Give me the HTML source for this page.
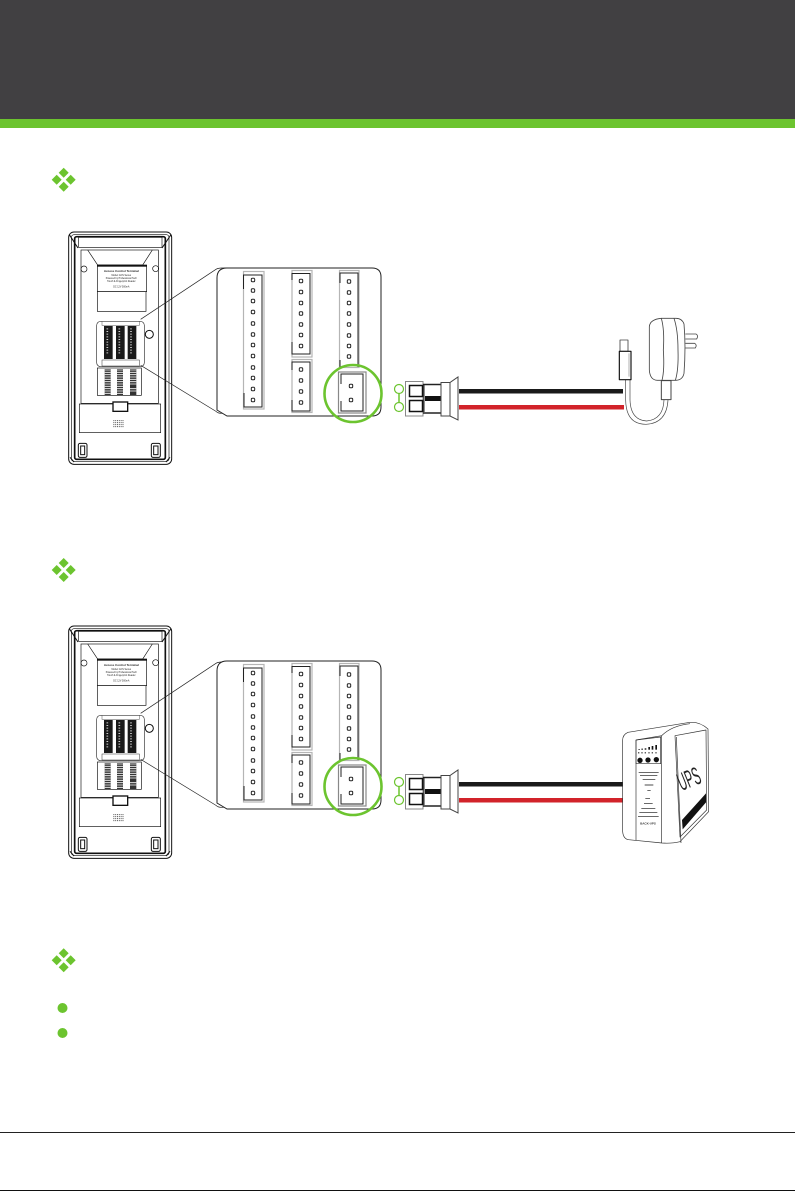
<!DOCTYPE html>
<html><head><meta charset="utf-8"><style>
html,body{margin:0;padding:0;background:#fff;width:795px;height:1191px;overflow:hidden}
svg{display:block}
</style></head><body>
<svg width="795" height="1191" viewBox="0 0 795 1191" xmlns="http://www.w3.org/2000/svg">
<defs>
<g id="dia" fill="#6cc42f">
<path d="M0 -12 L5 -7 L0 -2 L-5 -7Z"/><path d="M0 12 L5 7 L0 2 L-5 7Z"/><path d="M-12 0 L-7 -5 L-2 0 L-7 5Z"/><path d="M12 0 L7 -5 L2 0 L7 5Z"/>
</g>
<g id="pin"><rect x="-1.7" y="-1.7" width="3.4" height="3.4" rx="1" fill="#fff" stroke="#222" stroke-width="1"/></g>

<g id="device" transform="translate(50,220) scale(.33333)" fill="none" stroke="#111">
<rect x="56" y="36" width="309" height="697" rx="16" fill="#fff" stroke-width="3"/>
<rect x="64" y="44" width="293" height="680" rx="8" stroke-width="2"/>
<rect x="74" y="50" width="272" height="668" rx="6" stroke-width="5"/>
<rect x="86" y="52" width="250" height="30" stroke-width="2"/>
<path d="M58 44 L84 84 M363 44 L336 84 M60 712 L72 726 M360 712 L348 726" stroke-width="3"/>
<rect x="93" y="90" width="232" height="460" stroke-width="2"/>
<path d="M113 90 L143 135 H278 L307 90" stroke-width="2"/>
<rect x="142" y="135" width="148" height="80" fill="#fff" stroke-width="2"/>
<rect x="142" y="135" width="148" height="5" fill="#111" stroke="none"/>
<rect x="142" y="215" width="146" height="59" stroke-width="2"/>
<circle cx="102" cy="147" r="9" stroke-width="2"/><circle cx="317" cy="146" r="9" stroke-width="2"/>
<circle cx="298" cy="343" r="12" stroke-width="3"/>
<rect x="140" y="304" width="143" height="136" rx="12" stroke-width="2" stroke="#333"/>
<rect x="156" y="304" width="112" height="12" stroke-width="1.5" stroke="#555"/>
<rect x="156" y="420" width="112" height="18" stroke-width="1.5" stroke="#333"/>
<rect x="162" y="318" width="26" height="99" fill="#1a1a1a" stroke="none"/>
<rect x="198" y="318" width="26" height="99" fill="#1a1a1a" stroke="none"/>
<rect x="233" y="318" width="26" height="99" fill="#1a1a1a" stroke="none"/>
<path d="M172 325 V405 M208 325 V405 M243 325 V405" stroke="#ccc" stroke-width="5" stroke-dasharray="3 5"/>
<rect x="142" y="444" width="132" height="82" stroke-width="2"/>
<g fill="#333" stroke="none">
<rect x="164" y="447" width="18" height="78"/><rect x="201" y="447" width="18" height="78"/><rect x="240" y="447" width="19" height="78"/>
</g>
<path d="M164 450 H182 M164 457 H182 M164 464 H182 M164 471 H182 M164 478 H182 M164 485 H182 M164 492 H182 M164 499 H182 M164 506 H182 M164 513 H182 M164 520 H182 M201 450 H219 M201 457 H219 M201 464 H219 M201 471 H219 M201 478 H219 M201 485 H219 M201 492 H219 M201 499 H219 M201 506 H219 M201 513 H219 M201 520 H219 M240 450 H259 M240 457 H259 M240 464 H259 M240 471 H259 M240 478 H259 M240 485 H259 M240 492 H259 M240 506 H259 M240 513 H259" stroke="#fff" stroke-width="2.4"/>
<rect x="88" y="552" width="244" height="86" fill="#fff" stroke-width="2"/>
<rect x="189" y="546" width="44" height="28" fill="#fff" stroke-width="4"/>
<path d="M190 620 h32 M190 614 h32 M190 608 h32 M190 602 h32" stroke="#555" stroke-width="3" stroke-dasharray="3 2.5"/>
<rect x="85" y="670" width="26" height="42" rx="5" stroke-width="3"/>
<rect x="92" y="678" width="12" height="26" stroke-width="3"/>
<rect x="304" y="670" width="27" height="42" rx="5" stroke-width="3"/>
<rect x="311" y="678" width="13" height="26" stroke-width="3"/>
<g fill="#222" stroke="none" font-family="'Liberation Sans',sans-serif" text-anchor="middle">
<text x="214" y="156" font-size="9" font-weight="bold">Access Control Terminal</text>
<text x="214" y="168" font-size="7">Model: ACS Series</text>
<text x="214" y="177" font-size="7">Powered by Professional Tech</text>
<text x="214" y="186" font-size="7">Touch &amp; Fingerprint Reader</text>
<text x="214" y="202" font-size="7">DC 12V  500mA</text>
</g>
<path d="M272 298 L498 148 Q504 144 515 144 H542 M272 436 L498 574 Q504 580 515 580 H542" stroke="#222" stroke-width="2"/>
</g>

<g id="panel" fill="none">
<path d="M217 278 Q217 268 227 268 H372 Q381 268 381 277 V407 Q381 416 372 416 H227 L217 410Z" fill="#fff" stroke="#222" stroke-width="1"/>
<g stroke="#b5b5b5" stroke-width="1.2" fill="#fff">
<rect x="243.5" y="271.5" width="20.5" height="137.5"/>
<rect x="292" y="270.5" width="20" height="86.5"/>
<rect x="292" y="359.5" width="20" height="53"/>
<rect x="339.5" y="270.5" width="19.500" height="97"/>
<rect x="338.500" y="372" width="27.500" height="41" stroke="#888"/>
</g>
<path d="M243.500 289 V275 H262 V407 H244 V393" stroke="#222" stroke-width="1"/>
<path d="M292 280 V273.500 H310 V354 H292 V342" stroke="#222" stroke-width="1"/>
<path d="M292 370 V362 H310 V411 H292 V400" stroke="#222" stroke-width="1"/>
<path d="M340 283 V273 H358 V367 M340 360 V367" stroke="#222" stroke-width="1"/>
<path d="M341 384 V374 H363 V411 H341 V401" stroke="#222" stroke-width="1"/>
<g>
<use href="#pin" x="253" y="280"/><use href="#pin" x="253" y="290.500"/><use href="#pin" x="253" y="301"/><use href="#pin" x="253" y="312"/><use href="#pin" x="253" y="323.500"/><use href="#pin" x="253" y="334.500"/><use href="#pin" x="253" y="345"/><use href="#pin" x="253" y="356"/><use href="#pin" x="253" y="367.500"/><use href="#pin" x="253" y="378"/><use href="#pin" x="253" y="389"/><use href="#pin" x="253" y="400"/>
<use href="#pin" x="301" y="281"/><use href="#pin" x="301" y="292"/><use href="#pin" x="301" y="303"/><use href="#pin" x="301" y="313.500"/><use href="#pin" x="301" y="324.500"/><use href="#pin" x="301" y="335"/><use href="#pin" x="301" y="346"/>
<use href="#pin" x="301" y="369.500"/><use href="#pin" x="301" y="380.500"/><use href="#pin" x="301" y="391.500"/><use href="#pin" x="301" y="402.500"/>
<use href="#pin" x="349" y="281.500"/><use href="#pin" x="349" y="292.500"/><use href="#pin" x="349" y="303"/><use href="#pin" x="349" y="313.500"/><use href="#pin" x="349" y="324.500"/><use href="#pin" x="349" y="335.500"/><use href="#pin" x="349" y="346"/><use href="#pin" x="349" y="356.500"/>
<use href="#pin" x="351" y="386"/><use href="#pin" x="351" y="400"/>
</g>
<circle cx="353" cy="393.500" r="28.500" stroke="#6cc42f" stroke-width="2.600"/>
<g stroke="#6cc42f" stroke-width="1.200" fill="#fff">
<circle cx="399" cy="389" r="4.500"/><circle cx="399" cy="407" r="4.500"/>
</g>
<path d="M399 393.500 V402.500" stroke="#6cc42f" stroke-width="1.500"/>
<rect x="405.500" y="381.500" width="17.500" height="34.500" fill="#fff" stroke="#888" stroke-width="1"/>
<rect x="409.500" y="385.500" width="13" height="11" fill="#fff" stroke="#111" stroke-width="1.500"/>
<rect x="409.500" y="400.500" width="13" height="11" fill="#fff" stroke="#111" stroke-width="1.500"/>
<path d="M423 384.500 H441 M423 413 H441" stroke="#222" stroke-width="1.600"/>
<path d="M424 385 V412" stroke="#222" stroke-width="1"/>
<rect x="425" y="396" width="16" height="5" fill="#111"/>
<path d="M441 382.500 H450 L458 377 V420 L450 416 H441Z" fill="#fff" stroke="#444" stroke-width="1"/>
<path d="M450 382.500 V416" stroke="#444" stroke-width="1"/>
<rect x="459" y="389" width="164" height="4.500" fill="#1a1a1a"/>
<rect x="459" y="405" width="165" height="4.500" fill="#d2232a"/>
</g>

</defs>

<rect width="795" height="1191" fill="#fff"/>
<rect width="795" height="119" fill="#414042"/>
<rect y="119" width="795" height="9" fill="#6cc42f"/>

<use href="#dia" x="63.700" y="179.700"/>
<use href="#dia" x="63.700" y="570"/>
<use href="#dia" x="63.700" y="960.300"/>

<use href="#device"/>
<use href="#panel"/>
<use href="#device" y="394"/>
<use href="#panel" y="393"/>

<!-- adapter -->
<g transform="translate(600,310) scale(.33333)" fill="none" stroke="#444" stroke-width="2.500" stroke-linejoin="round">
<path d="M184 25 H228 Q246 25 252 42 Q258 110 252 190 Q248 210 228 211 H172 Q150 210 148 180 V50 Q150 28 184 25Z" fill="#fff"/>
<path d="M184 25 Q194 60 190 120 Q194 180 186 211 M222 25 Q234 60 234 120 Q236 180 226 211"/>
<path d="M256 72 H288 Q296 76 290 87 H256 M256 100 H284 Q292 105 286 114 H256"/>
<rect x="184" y="212" width="29" height="57" fill="#fff" stroke-width="3"/>
<path d="M77 210 V270 Q78 343 138 343 Q200 340 204 270 M90 210 V270 Q92 330 140 333 Q190 328 192 270" stroke-width="2"/>
<rect x="60" y="90" width="24" height="34" fill="#fff"/>
<rect x="58" y="124" width="35" height="85" fill="#fff" stroke="#111" stroke-width="3.500"/>
<path d="M87 130 V200" stroke="#888" stroke-width="2"/>
</g>

<!-- UPS -->
<g transform="translate(600,715) scale(.33333)" fill="none" stroke="#333" stroke-width="2" stroke-linejoin="round">
<path d="M68 80 Q66 60 84 52 L270 22 Q300 20 324 42 L326 290 L240 380 Q216 386 186 384 L86 374 Q70 372 68 350Z" fill="#fff"/>
<path d="M108 75 L185 62 Q215 32 270 26 M185 62 V384 M108 75 V376"/>
<path d="M225 62 L318 45 L320 285 L240 366Z M229 66 L243 384"/>
<path d="M108 75 L182 66 V146 H108Z"/>
<g fill="#111" stroke="none">
<circle cx="120" cy="136" r="8"/><circle cx="144" cy="135" r="8"/><circle cx="169" cy="134" r="8"/>
<rect x="115" y="102" width="5" height="2"/><rect x="124" y="101" width="5" height="3"/><rect x="134" y="100" width="5" height="4"/><rect x="145" y="96" width="5" height="8"/><rect x="155" y="93" width="5" height="11"/><rect x="166" y="90" width="5" height="14"/>
<rect x="114" y="112" width="4" height="3"/><rect x="124" y="112" width="4" height="3"/><rect x="134" y="112" width="4" height="3"/><rect x="145" y="112" width="4" height="3"/><rect x="155" y="112" width="4" height="3"/><rect x="166" y="112" width="4" height="3"/>
<path d="M246 315 L318 235 V262 L248 343Z"/>
</g>
<path d="M116 172 H176 M120 182 H172 M128 194 H166 M134 210 H160 M142 226 H152 M136 250 H150 M132 266 H158 M124 280 H166 M118 292 H172 M114 304 H176" stroke="#111" stroke-width="2"/>
<text transform="translate(245,228) rotate(-22) scale(.66,1.5)" font-family="'Liberation Sans',sans-serif" font-size="50" fill="#222" stroke="none">UPS</text>
<text x="144" y="328" text-anchor="middle" font-family="'Liberation Sans',sans-serif" font-size="9" font-weight="bold" fill="#333" stroke="none">BACK-UPS</text>
</g>

<circle cx="62.500" cy="1008" r="5" fill="#6cc42f"/>
<circle cx="62.500" cy="1033" r="5" fill="#6cc42f"/>

<rect y="1132" width="795" height="1" fill="#222"/>
<rect y="1190" width="795" height="1" fill="#111"/>
</svg>
</body></html>
